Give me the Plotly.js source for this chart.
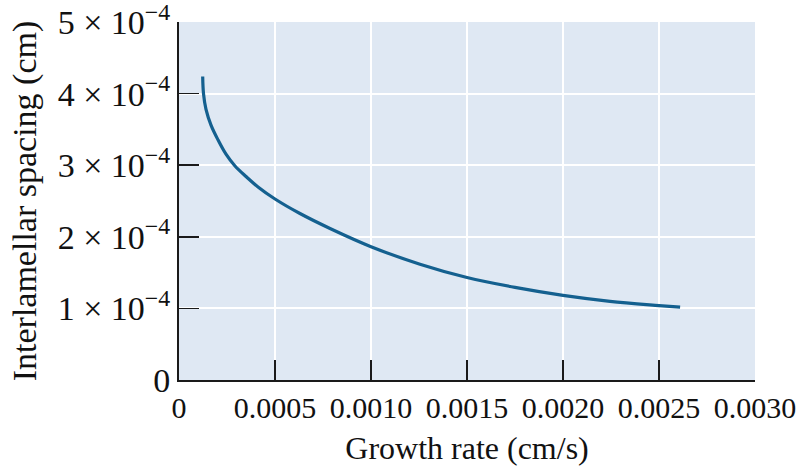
<!DOCTYPE html>
<html>
<head>
<meta charset="utf-8">
<script src="https://cdn.plot.ly/plotly-3.0.1.min.js"></script>
<style>html,body{margin:0;padding:0;background:#fff;}#chart{width:801px;height:471px;}</style>
</head>
<body>
<div id="chart"></div>
<script>
// Growth rate (cm/s)
const growthRate = [0.0001234, 0.0001276, 0.0001406, 0.0001667, 0.0002031, 0.0002448, 0.0002917, 0.000349, 0.0004115, 0.0005, 0.00063, 0.0007865, 0.001, 0.001255, 0.0015, 0.00175, 0.002, 0.002245, 0.0025, 0.00261];
// Interlamellar spacing (cm)
const spacing = [4.238e-4, 4.0e-4, 3.78e-4, 3.56e-4, 3.354e-4, 3.154e-4, 2.989e-4, 2.842e-4, 2.696e-4, 2.528e-4, 2.325e-4, 2.116e-4, 1.862e-4, 1.617e-4, 1.431e-4, 1.293e-4, 1.182e-4, 1.099e-4, 1.04e-4, 1.017e-4];

const xTickVals = [0, 0.0005, 0.0010, 0.0015, 0.0020, 0.0025, 0.0030];
const xTickText = ["0", "0.0005", "0.0010", "0.0015", "0.0020", "0.0025", "0.0030"];
const yTickVals = [0, 1e-4, 2e-4, 3e-4, 4e-4, 5e-4];
const yTickMantissa = ["0", "1", "2", "3", "4", "5"];
const yTickExponent = "−4";

const yTickText = yTickMantissa.map((m, i) =>
  i === 0 ? m : m + " × 10<sup>" + yTickExponent + "</sup>"
);

const serif = "Liberation Serif, Times New Roman, serif";

const trace = {
  x: growthRate,
  y: spacing,
  type: "scatter",
  mode: "lines",
  line: {color: "#14608f", width: 3.2, shape: "spline", smoothing: 1},
  hoverinfo: "skip"
};

const layout = {
  width: 801,
  height: 471,
  margin: {l: 179, r: 46, t: 22, b: 91},
  paper_bgcolor: "#ffffff",
  plot_bgcolor: "#dfe8f3",
  showlegend: false,
  font: {family: serif, color: "#111111"},
  xaxis: {
    range: [0, 0.003],
    tickvals: xTickVals,
    ticktext: xTickText,
    ticks: "inside",
    ticklen: 20,
    tickwidth: 1.6,
    tickcolor: "#1a1a1a",
    showline: true,
    linecolor: "#1a1a1a",
    linewidth: 2,
    showgrid: true,
    gridcolor: "#ffffff",
    gridwidth: 2,
    zeroline: false,
    ticklabeloverflow: "allow",
    tickfont: {family: serif, size: 30, color: "#111111"},
    tickangle: 0,
    title: {text: "Growth rate (cm/s)", font: {family: serif, size: 32, color: "#111111"}, standoff: 14}
  },
  yaxis: {
    range: [0, 5e-4],
    tickvals: yTickVals,
    ticktext: yTickText,
    ticks: "inside",
    ticklen: 20,
    tickwidth: 1.6,
    tickcolor: "#1a1a1a",
    showline: true,
    linecolor: "#1a1a1a",
    linewidth: 2,
    showgrid: true,
    gridcolor: "#ffffff",
    gridwidth: 2,
    zeroline: false,
    ticklabeloverflow: "allow",
    tickfont: {family: serif, size: 34, color: "#111111"},
    title: {text: "Interlamellar spacing (cm)", font: {family: serif, size: 34, color: "#111111"}, standoff: 11}
  }
};

Plotly.newPlot("chart", [trace], layout, {staticPlot: true, displayModeBar: false});
</script>
</body>
</html>
